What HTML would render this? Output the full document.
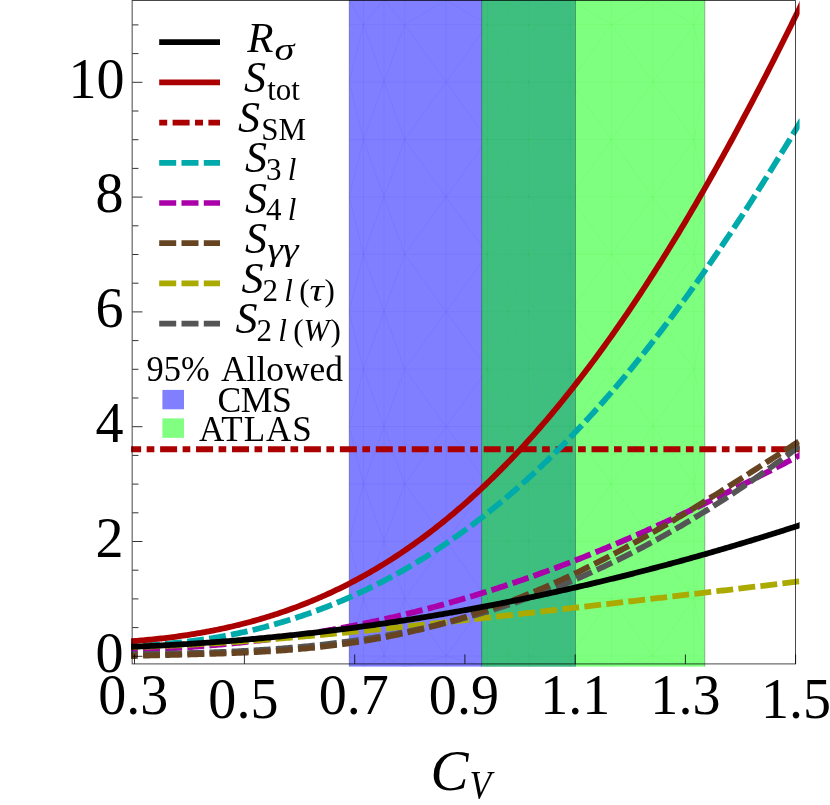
<!DOCTYPE html>
<html><head><meta charset="utf-8"><title>Chart</title>
<style>
html,body{margin:0;padding:0;background:#fff;}
body{width:830px;height:805px;overflow:hidden;font-family:"Liberation Serif",serif;}
svg{display:block;will-change:transform;transform:translateZ(0);}
</style></head><body>
<svg width="830" height="805" viewBox="0 0 830 805">
<defs>
<clipPath id="cc"><rect x="131.1" y="0" width="668.5" height="666.9"/></clipPath>
</defs>
<rect width="830" height="805" fill="#fff"/>
<rect x="349.2" y="0" width="226.3" height="666.6" fill="#0000ff" fill-opacity="0.5"/>
<g stroke="#0000ff" stroke-opacity="0.075" stroke-width="0.7" fill="none">
<line x1="349.2" y1="24.7" x2="575.5" y2="24.7"/>
<line x1="349.2" y1="82.1" x2="575.5" y2="82.1"/>
<line x1="349.2" y1="139.5" x2="575.5" y2="139.5"/>
<line x1="349.2" y1="196.9" x2="575.5" y2="196.9"/>
<line x1="349.2" y1="254.3" x2="575.5" y2="254.3"/>
<line x1="349.2" y1="311.7" x2="575.5" y2="311.7"/>
<line x1="349.2" y1="369.1" x2="575.5" y2="369.1"/>
<line x1="349.2" y1="426.5" x2="575.5" y2="426.5"/>
<line x1="349.2" y1="483.9" x2="575.5" y2="483.9"/>
<line x1="349.2" y1="541.3" x2="575.5" y2="541.3"/>
<line x1="349.2" y1="598.7" x2="575.5" y2="598.7"/>
<line x1="349.2" y1="656.1" x2="575.5" y2="656.1"/>
<line x1="363.4" y1="0" x2="363.4" y2="666.6"/>
<line x1="384.0" y1="0" x2="384.0" y2="666.6"/>
<line x1="404.7" y1="0" x2="404.7" y2="666.6"/>
<line x1="446.1" y1="0" x2="446.1" y2="666.6"/>
<line x1="487.4" y1="0" x2="487.4" y2="666.6"/>
<line x1="528.7" y1="0" x2="528.7" y2="666.6"/>
<line x1="570.1" y1="0" x2="570.1" y2="666.6"/>
<line x1="349.2" y1="0.0" x2="363.4" y2="24.7"/>
<line x1="384.0" y1="0.0" x2="363.4" y2="24.7"/>
<line x1="384.0" y1="0.0" x2="404.7" y2="24.7"/>
<line x1="446.1" y1="0.0" x2="404.7" y2="24.7"/>
<line x1="446.1" y1="0.0" x2="487.4" y2="24.7"/>
<line x1="528.7" y1="0.0" x2="487.4" y2="24.7"/>
<line x1="528.7" y1="0.0" x2="570.1" y2="24.7"/>
<line x1="575.5" y1="0.0" x2="570.1" y2="24.7"/>
<line x1="363.4" y1="24.7" x2="349.2" y2="82.1"/>
<line x1="363.4" y1="24.7" x2="384.0" y2="82.1"/>
<line x1="404.7" y1="24.7" x2="384.0" y2="82.1"/>
<line x1="404.7" y1="24.7" x2="446.1" y2="82.1"/>
<line x1="487.4" y1="24.7" x2="446.1" y2="82.1"/>
<line x1="487.4" y1="24.7" x2="528.7" y2="82.1"/>
<line x1="570.1" y1="24.7" x2="528.7" y2="82.1"/>
<line x1="570.1" y1="24.7" x2="575.5" y2="82.1"/>
<line x1="349.2" y1="82.1" x2="363.4" y2="139.5"/>
<line x1="384.0" y1="82.1" x2="363.4" y2="139.5"/>
<line x1="384.0" y1="82.1" x2="404.7" y2="139.5"/>
<line x1="446.1" y1="82.1" x2="404.7" y2="139.5"/>
<line x1="446.1" y1="82.1" x2="487.4" y2="139.5"/>
<line x1="528.7" y1="82.1" x2="487.4" y2="139.5"/>
<line x1="528.7" y1="82.1" x2="570.1" y2="139.5"/>
<line x1="575.5" y1="82.1" x2="570.1" y2="139.5"/>
<line x1="363.4" y1="139.5" x2="349.2" y2="196.9"/>
<line x1="363.4" y1="139.5" x2="384.0" y2="196.9"/>
<line x1="404.7" y1="139.5" x2="384.0" y2="196.9"/>
<line x1="404.7" y1="139.5" x2="446.1" y2="196.9"/>
<line x1="487.4" y1="139.5" x2="446.1" y2="196.9"/>
<line x1="487.4" y1="139.5" x2="528.7" y2="196.9"/>
<line x1="570.1" y1="139.5" x2="528.7" y2="196.9"/>
<line x1="570.1" y1="139.5" x2="575.5" y2="196.9"/>
<line x1="349.2" y1="196.9" x2="363.4" y2="254.3"/>
<line x1="384.0" y1="196.9" x2="363.4" y2="254.3"/>
<line x1="384.0" y1="196.9" x2="404.7" y2="254.3"/>
<line x1="446.1" y1="196.9" x2="404.7" y2="254.3"/>
<line x1="446.1" y1="196.9" x2="487.4" y2="254.3"/>
<line x1="528.7" y1="196.9" x2="487.4" y2="254.3"/>
<line x1="528.7" y1="196.9" x2="570.1" y2="254.3"/>
<line x1="575.5" y1="196.9" x2="570.1" y2="254.3"/>
<line x1="363.4" y1="254.3" x2="349.2" y2="311.7"/>
<line x1="363.4" y1="254.3" x2="384.0" y2="311.7"/>
<line x1="404.7" y1="254.3" x2="384.0" y2="311.7"/>
<line x1="404.7" y1="254.3" x2="446.1" y2="311.7"/>
<line x1="487.4" y1="254.3" x2="446.1" y2="311.7"/>
<line x1="487.4" y1="254.3" x2="528.7" y2="311.7"/>
<line x1="570.1" y1="254.3" x2="528.7" y2="311.7"/>
<line x1="570.1" y1="254.3" x2="575.5" y2="311.7"/>
<line x1="349.2" y1="311.7" x2="363.4" y2="369.1"/>
<line x1="384.0" y1="311.7" x2="363.4" y2="369.1"/>
<line x1="384.0" y1="311.7" x2="404.7" y2="369.1"/>
<line x1="446.1" y1="311.7" x2="404.7" y2="369.1"/>
<line x1="446.1" y1="311.7" x2="487.4" y2="369.1"/>
<line x1="528.7" y1="311.7" x2="487.4" y2="369.1"/>
<line x1="528.7" y1="311.7" x2="570.1" y2="369.1"/>
<line x1="575.5" y1="311.7" x2="570.1" y2="369.1"/>
<line x1="363.4" y1="369.1" x2="349.2" y2="426.5"/>
<line x1="363.4" y1="369.1" x2="384.0" y2="426.5"/>
<line x1="404.7" y1="369.1" x2="384.0" y2="426.5"/>
<line x1="404.7" y1="369.1" x2="446.1" y2="426.5"/>
<line x1="487.4" y1="369.1" x2="446.1" y2="426.5"/>
<line x1="487.4" y1="369.1" x2="528.7" y2="426.5"/>
<line x1="570.1" y1="369.1" x2="528.7" y2="426.5"/>
<line x1="570.1" y1="369.1" x2="575.5" y2="426.5"/>
<line x1="349.2" y1="426.5" x2="363.4" y2="483.9"/>
<line x1="384.0" y1="426.5" x2="363.4" y2="483.9"/>
<line x1="384.0" y1="426.5" x2="404.7" y2="483.9"/>
<line x1="446.1" y1="426.5" x2="404.7" y2="483.9"/>
<line x1="446.1" y1="426.5" x2="487.4" y2="483.9"/>
<line x1="528.7" y1="426.5" x2="487.4" y2="483.9"/>
<line x1="528.7" y1="426.5" x2="570.1" y2="483.9"/>
<line x1="575.5" y1="426.5" x2="570.1" y2="483.9"/>
<line x1="363.4" y1="483.9" x2="349.2" y2="541.3"/>
<line x1="363.4" y1="483.9" x2="384.0" y2="541.3"/>
<line x1="404.7" y1="483.9" x2="384.0" y2="541.3"/>
<line x1="404.7" y1="483.9" x2="446.1" y2="541.3"/>
<line x1="487.4" y1="483.9" x2="446.1" y2="541.3"/>
<line x1="487.4" y1="483.9" x2="528.7" y2="541.3"/>
<line x1="570.1" y1="483.9" x2="528.7" y2="541.3"/>
<line x1="570.1" y1="483.9" x2="575.5" y2="541.3"/>
<line x1="349.2" y1="541.3" x2="363.4" y2="598.7"/>
<line x1="384.0" y1="541.3" x2="363.4" y2="598.7"/>
<line x1="384.0" y1="541.3" x2="404.7" y2="598.7"/>
<line x1="446.1" y1="541.3" x2="404.7" y2="598.7"/>
<line x1="446.1" y1="541.3" x2="487.4" y2="598.7"/>
<line x1="528.7" y1="541.3" x2="487.4" y2="598.7"/>
<line x1="528.7" y1="541.3" x2="570.1" y2="598.7"/>
<line x1="575.5" y1="541.3" x2="570.1" y2="598.7"/>
<line x1="363.4" y1="598.7" x2="349.2" y2="656.1"/>
<line x1="363.4" y1="598.7" x2="384.0" y2="656.1"/>
<line x1="404.7" y1="598.7" x2="384.0" y2="656.1"/>
<line x1="404.7" y1="598.7" x2="446.1" y2="656.1"/>
<line x1="487.4" y1="598.7" x2="446.1" y2="656.1"/>
<line x1="487.4" y1="598.7" x2="528.7" y2="656.1"/>
<line x1="570.1" y1="598.7" x2="528.7" y2="656.1"/>
<line x1="570.1" y1="598.7" x2="575.5" y2="656.1"/>
<line x1="349.2" y1="656.1" x2="363.4" y2="666.6"/>
<line x1="384.0" y1="656.1" x2="363.4" y2="666.6"/>
<line x1="384.0" y1="656.1" x2="404.7" y2="666.6"/>
<line x1="446.1" y1="656.1" x2="404.7" y2="666.6"/>
<line x1="446.1" y1="656.1" x2="487.4" y2="666.6"/>
<line x1="528.7" y1="656.1" x2="487.4" y2="666.6"/>
<line x1="528.7" y1="656.1" x2="570.1" y2="666.6"/>
<line x1="575.5" y1="656.1" x2="570.1" y2="666.6"/>
</g>
<rect x="481.7" y="0" width="223.1" height="666.6" fill="#00ff00" fill-opacity="0.5"/>
<g stroke="#00d800" stroke-opacity="0.085" stroke-width="0.7" fill="none">
<line x1="481.7" y1="24.7" x2="704.8" y2="24.7"/>
<line x1="481.7" y1="82.1" x2="704.8" y2="82.1"/>
<line x1="481.7" y1="139.5" x2="704.8" y2="139.5"/>
<line x1="481.7" y1="196.9" x2="704.8" y2="196.9"/>
<line x1="481.7" y1="254.3" x2="704.8" y2="254.3"/>
<line x1="481.7" y1="311.7" x2="704.8" y2="311.7"/>
<line x1="481.7" y1="369.1" x2="704.8" y2="369.1"/>
<line x1="481.7" y1="426.5" x2="704.8" y2="426.5"/>
<line x1="481.7" y1="483.9" x2="704.8" y2="483.9"/>
<line x1="481.7" y1="541.3" x2="704.8" y2="541.3"/>
<line x1="481.7" y1="598.7" x2="704.8" y2="598.7"/>
<line x1="481.7" y1="656.1" x2="704.8" y2="656.1"/>
<line x1="487.4" y1="0" x2="487.4" y2="666.6"/>
<line x1="508.1" y1="0" x2="508.1" y2="666.6"/>
<line x1="528.7" y1="0" x2="528.7" y2="666.6"/>
<line x1="570.1" y1="0" x2="570.1" y2="666.6"/>
<line x1="611.4" y1="0" x2="611.4" y2="666.6"/>
<line x1="652.8" y1="0" x2="652.8" y2="666.6"/>
<line x1="694.1" y1="0" x2="694.1" y2="666.6"/>
<line x1="481.7" y1="0.0" x2="487.4" y2="24.7"/>
<line x1="508.1" y1="0.0" x2="487.4" y2="24.7"/>
<line x1="508.1" y1="0.0" x2="528.7" y2="24.7"/>
<line x1="570.1" y1="0.0" x2="528.7" y2="24.7"/>
<line x1="570.1" y1="0.0" x2="611.4" y2="24.7"/>
<line x1="652.8" y1="0.0" x2="611.4" y2="24.7"/>
<line x1="652.8" y1="0.0" x2="694.1" y2="24.7"/>
<line x1="704.8" y1="0.0" x2="694.1" y2="24.7"/>
<line x1="487.4" y1="24.7" x2="481.7" y2="82.1"/>
<line x1="487.4" y1="24.7" x2="508.1" y2="82.1"/>
<line x1="528.7" y1="24.7" x2="508.1" y2="82.1"/>
<line x1="528.7" y1="24.7" x2="570.1" y2="82.1"/>
<line x1="611.4" y1="24.7" x2="570.1" y2="82.1"/>
<line x1="611.4" y1="24.7" x2="652.8" y2="82.1"/>
<line x1="694.1" y1="24.7" x2="652.8" y2="82.1"/>
<line x1="694.1" y1="24.7" x2="704.8" y2="82.1"/>
<line x1="481.7" y1="82.1" x2="487.4" y2="139.5"/>
<line x1="508.1" y1="82.1" x2="487.4" y2="139.5"/>
<line x1="508.1" y1="82.1" x2="528.7" y2="139.5"/>
<line x1="570.1" y1="82.1" x2="528.7" y2="139.5"/>
<line x1="570.1" y1="82.1" x2="611.4" y2="139.5"/>
<line x1="652.8" y1="82.1" x2="611.4" y2="139.5"/>
<line x1="652.8" y1="82.1" x2="694.1" y2="139.5"/>
<line x1="704.8" y1="82.1" x2="694.1" y2="139.5"/>
<line x1="487.4" y1="139.5" x2="481.7" y2="196.9"/>
<line x1="487.4" y1="139.5" x2="508.1" y2="196.9"/>
<line x1="528.7" y1="139.5" x2="508.1" y2="196.9"/>
<line x1="528.7" y1="139.5" x2="570.1" y2="196.9"/>
<line x1="611.4" y1="139.5" x2="570.1" y2="196.9"/>
<line x1="611.4" y1="139.5" x2="652.8" y2="196.9"/>
<line x1="694.1" y1="139.5" x2="652.8" y2="196.9"/>
<line x1="694.1" y1="139.5" x2="704.8" y2="196.9"/>
<line x1="481.7" y1="196.9" x2="487.4" y2="254.3"/>
<line x1="508.1" y1="196.9" x2="487.4" y2="254.3"/>
<line x1="508.1" y1="196.9" x2="528.7" y2="254.3"/>
<line x1="570.1" y1="196.9" x2="528.7" y2="254.3"/>
<line x1="570.1" y1="196.9" x2="611.4" y2="254.3"/>
<line x1="652.8" y1="196.9" x2="611.4" y2="254.3"/>
<line x1="652.8" y1="196.9" x2="694.1" y2="254.3"/>
<line x1="704.8" y1="196.9" x2="694.1" y2="254.3"/>
<line x1="487.4" y1="254.3" x2="481.7" y2="311.7"/>
<line x1="487.4" y1="254.3" x2="508.1" y2="311.7"/>
<line x1="528.7" y1="254.3" x2="508.1" y2="311.7"/>
<line x1="528.7" y1="254.3" x2="570.1" y2="311.7"/>
<line x1="611.4" y1="254.3" x2="570.1" y2="311.7"/>
<line x1="611.4" y1="254.3" x2="652.8" y2="311.7"/>
<line x1="694.1" y1="254.3" x2="652.8" y2="311.7"/>
<line x1="694.1" y1="254.3" x2="704.8" y2="311.7"/>
<line x1="481.7" y1="311.7" x2="487.4" y2="369.1"/>
<line x1="508.1" y1="311.7" x2="487.4" y2="369.1"/>
<line x1="508.1" y1="311.7" x2="528.7" y2="369.1"/>
<line x1="570.1" y1="311.7" x2="528.7" y2="369.1"/>
<line x1="570.1" y1="311.7" x2="611.4" y2="369.1"/>
<line x1="652.8" y1="311.7" x2="611.4" y2="369.1"/>
<line x1="652.8" y1="311.7" x2="694.1" y2="369.1"/>
<line x1="704.8" y1="311.7" x2="694.1" y2="369.1"/>
<line x1="487.4" y1="369.1" x2="481.7" y2="426.5"/>
<line x1="487.4" y1="369.1" x2="508.1" y2="426.5"/>
<line x1="528.7" y1="369.1" x2="508.1" y2="426.5"/>
<line x1="528.7" y1="369.1" x2="570.1" y2="426.5"/>
<line x1="611.4" y1="369.1" x2="570.1" y2="426.5"/>
<line x1="611.4" y1="369.1" x2="652.8" y2="426.5"/>
<line x1="694.1" y1="369.1" x2="652.8" y2="426.5"/>
<line x1="694.1" y1="369.1" x2="704.8" y2="426.5"/>
<line x1="481.7" y1="426.5" x2="487.4" y2="483.9"/>
<line x1="508.1" y1="426.5" x2="487.4" y2="483.9"/>
<line x1="508.1" y1="426.5" x2="528.7" y2="483.9"/>
<line x1="570.1" y1="426.5" x2="528.7" y2="483.9"/>
<line x1="570.1" y1="426.5" x2="611.4" y2="483.9"/>
<line x1="652.8" y1="426.5" x2="611.4" y2="483.9"/>
<line x1="652.8" y1="426.5" x2="694.1" y2="483.9"/>
<line x1="704.8" y1="426.5" x2="694.1" y2="483.9"/>
<line x1="487.4" y1="483.9" x2="481.7" y2="541.3"/>
<line x1="487.4" y1="483.9" x2="508.1" y2="541.3"/>
<line x1="528.7" y1="483.9" x2="508.1" y2="541.3"/>
<line x1="528.7" y1="483.9" x2="570.1" y2="541.3"/>
<line x1="611.4" y1="483.9" x2="570.1" y2="541.3"/>
<line x1="611.4" y1="483.9" x2="652.8" y2="541.3"/>
<line x1="694.1" y1="483.9" x2="652.8" y2="541.3"/>
<line x1="694.1" y1="483.9" x2="704.8" y2="541.3"/>
<line x1="481.7" y1="541.3" x2="487.4" y2="598.7"/>
<line x1="508.1" y1="541.3" x2="487.4" y2="598.7"/>
<line x1="508.1" y1="541.3" x2="528.7" y2="598.7"/>
<line x1="570.1" y1="541.3" x2="528.7" y2="598.7"/>
<line x1="570.1" y1="541.3" x2="611.4" y2="598.7"/>
<line x1="652.8" y1="541.3" x2="611.4" y2="598.7"/>
<line x1="652.8" y1="541.3" x2="694.1" y2="598.7"/>
<line x1="704.8" y1="541.3" x2="694.1" y2="598.7"/>
<line x1="487.4" y1="598.7" x2="481.7" y2="656.1"/>
<line x1="487.4" y1="598.7" x2="508.1" y2="656.1"/>
<line x1="528.7" y1="598.7" x2="508.1" y2="656.1"/>
<line x1="528.7" y1="598.7" x2="570.1" y2="656.1"/>
<line x1="611.4" y1="598.7" x2="570.1" y2="656.1"/>
<line x1="611.4" y1="598.7" x2="652.8" y2="656.1"/>
<line x1="694.1" y1="598.7" x2="652.8" y2="656.1"/>
<line x1="694.1" y1="598.7" x2="704.8" y2="656.1"/>
<line x1="481.7" y1="656.1" x2="487.4" y2="666.6"/>
<line x1="508.1" y1="656.1" x2="487.4" y2="666.6"/>
<line x1="508.1" y1="656.1" x2="528.7" y2="666.6"/>
<line x1="570.1" y1="656.1" x2="528.7" y2="666.6"/>
<line x1="570.1" y1="656.1" x2="611.4" y2="666.6"/>
<line x1="652.8" y1="656.1" x2="611.4" y2="666.6"/>
<line x1="652.8" y1="656.1" x2="694.1" y2="666.6"/>
<line x1="704.8" y1="656.1" x2="694.1" y2="666.6"/>
</g>
<g stroke="#000" stroke-opacity="0.35" stroke-width="0.8">
<line x1="349.2" y1="0" x2="349.2" y2="666.6"/>
<line x1="575.5" y1="0" x2="575.5" y2="666.6"/>
<line x1="481.7" y1="0" x2="481.7" y2="666.6"/>
<line x1="704.8" y1="0" x2="704.8" y2="666.6"/>
</g>
<g clip-path="url(#cc)" fill="none" stroke-linecap="butt" stroke-linejoin="round">
<path d="M124.15,449.2 L803,449.2" stroke="#aa0000" stroke-width="6" stroke-dasharray="17 5.5 7.7 5.75"/>
<path d="M120.9,645.67 L122.9,645.66 L124.9,645.65 L126.9,645.63 L128.9,645.60 L130.9,645.57 L132.9,645.52 L134.9,645.47 L136.9,645.42 L138.9,645.36 L140.9,645.28 L142.9,645.21 L144.9,645.12 L146.9,645.03 L148.9,644.93 L150.9,644.83 L152.9,644.71 L154.9,644.59 L156.9,644.47 L158.9,644.33 L160.9,644.19 L162.9,644.04 L164.9,643.89 L166.9,643.73 L168.9,643.56 L170.9,643.38 L172.9,643.20 L174.9,643.01 L176.9,642.81 L178.9,642.60 L180.9,642.39 L182.9,642.17 L184.9,641.95 L186.9,641.72 L188.9,641.48 L190.9,641.23 L192.9,640.97 L194.9,640.71 L196.9,640.44 L198.9,640.17 L200.9,639.88 L202.9,639.59 L204.9,639.30 L206.9,638.99 L208.9,638.68 L210.9,638.36 L212.9,638.03 L214.9,637.70 L216.9,637.36 L218.9,637.01 L220.9,636.65 L222.9,636.29 L224.9,635.92 L226.9,635.54 L228.9,635.16 L230.9,634.77 L232.9,634.37 L234.9,633.96 L236.9,633.54 L238.9,633.12 L240.9,632.69 L242.9,632.25 L244.9,631.81 L246.9,631.36 L248.9,630.89 L250.9,630.43 L252.9,629.95 L254.9,629.47 L256.9,628.98 L258.9,628.48 L260.9,627.97 L262.9,627.46 L264.9,626.94 L266.9,626.41 L268.9,625.87 L270.9,625.32 L272.9,624.77 L274.9,624.21 L276.9,623.64 L278.9,623.06 L280.9,622.48 L282.9,621.89 L284.9,621.28 L286.9,620.68 L288.9,620.06 L290.9,619.43 L292.9,618.80 L294.9,618.16 L296.9,617.51 L298.9,616.85 L300.9,616.18 L302.9,615.51 L304.9,614.82 L306.9,614.13 L308.9,613.43 L310.9,612.72 L312.9,612.01 L314.9,611.28 L316.9,610.55 L318.9,609.81 L320.9,609.05 L322.9,608.30 L324.9,607.53 L326.9,606.75 L328.9,605.96 L330.9,605.17 L332.9,604.37 L334.9,603.55 L336.9,602.73 L338.9,601.90 L340.9,601.07 L342.9,600.22 L344.9,599.36 L346.9,598.50 L348.9,597.62 L350.9,596.74 L352.9,595.85 L354.9,594.94 L356.9,594.03 L358.9,593.11 L360.9,592.18 L362.9,591.24 L364.9,590.30 L366.9,589.34 L368.9,588.37 L370.9,587.39 L372.9,586.41 L374.9,585.41 L376.9,584.41 L378.9,583.39 L380.9,582.37 L382.9,581.34 L384.9,580.29 L386.9,579.24 L388.9,578.18 L390.9,577.11 L392.9,576.02 L394.9,574.93 L396.9,573.83 L398.9,572.72 L400.9,571.60 L402.9,570.47 L404.9,569.33 L406.9,568.17 L408.9,567.01 L410.9,565.84 L412.9,564.66 L414.9,563.47 L416.9,562.26 L418.9,561.05 L420.9,559.83 L422.9,558.60 L424.9,557.35 L426.9,556.10 L428.9,554.84 L430.9,553.56 L432.9,552.28 L434.9,550.98 L436.9,549.68 L438.9,548.36 L440.9,547.03 L442.9,545.69 L444.9,544.35 L446.9,542.99 L448.9,541.62 L450.9,540.24 L452.9,538.85 L454.9,537.44 L456.9,536.03 L458.9,534.61 L460.9,533.17 L462.9,531.73 L464.9,530.27 L466.9,528.81 L468.9,527.33 L470.9,525.84 L472.9,524.34 L474.9,522.83 L476.9,521.30 L478.9,519.77 L480.9,518.22 L482.9,516.67 L484.9,515.10 L486.9,513.52 L488.9,511.93 L490.9,510.33 L492.9,508.72 L494.9,507.10 L496.9,505.46 L498.9,503.81 L500.9,502.16 L502.9,500.49 L504.9,498.81 L506.9,497.11 L508.9,495.41 L510.9,493.69 L512.9,491.97 L514.9,490.23 L516.9,488.48 L518.9,486.72 L520.9,484.94 L522.9,483.16 L524.9,481.36 L526.9,479.55 L528.9,477.73 L530.9,475.90 L532.9,474.06 L534.9,472.20 L536.9,470.33 L538.9,468.45 L540.9,466.56 L542.9,464.66 L544.9,462.74 L546.9,460.82 L548.9,458.88 L550.9,456.93 L552.9,454.97 L554.9,452.99 L556.9,451.01 L558.9,449.01 L560.9,447.00 L562.9,444.97 L564.9,442.94 L566.9,440.89 L568.9,438.84 L570.9,436.77 L572.9,434.68 L574.9,432.59 L576.9,430.48 L578.9,428.36 L580.9,426.23 L582.9,424.09 L584.9,421.94 L586.9,419.77 L588.9,417.59 L590.9,415.40 L592.9,413.20 L594.9,410.98 L596.9,408.76 L598.9,406.52 L600.9,404.26 L602.9,402.00 L604.9,399.73 L606.9,397.44 L608.9,395.14 L610.9,392.83 L612.9,390.50 L614.9,388.17 L616.9,385.82 L618.9,383.46 L620.9,381.09 L622.9,378.70 L624.9,376.31 L626.9,373.90 L628.9,371.48 L630.9,369.04 L632.9,366.60 L634.9,364.14 L636.9,361.67 L638.9,359.19 L640.9,356.70 L642.9,354.20 L644.9,351.68 L646.9,349.15 L648.9,346.61 L650.9,344.06 L652.9,341.50 L654.9,338.92 L656.9,336.33 L658.9,333.73 L660.9,331.12 L662.9,328.50 L664.9,325.86 L666.9,323.22 L668.9,320.56 L670.9,317.89 L672.9,315.20 L674.9,312.51 L676.9,309.81 L678.9,307.09 L680.9,304.36 L682.9,301.62 L684.9,298.87 L686.9,296.11 L688.9,293.33 L690.9,290.55 L692.9,287.75 L694.9,284.94 L696.9,282.12 L698.9,279.29 L700.9,276.45 L702.9,273.59 L704.9,270.73 L706.9,267.85 L708.9,264.96 L710.9,262.07 L712.9,259.16 L714.9,256.24 L716.9,253.31 L718.9,250.36 L720.9,247.41 L722.9,244.45 L724.9,241.47 L726.9,238.49 L728.9,235.49 L730.9,232.49 L732.9,229.47 L734.9,226.44 L736.9,223.41 L738.9,220.36 L740.9,217.30 L742.9,214.23 L744.9,211.15 L746.9,208.06 L748.9,204.96 L750.9,201.85 L752.9,198.73 L754.9,195.61 L756.9,192.47 L758.9,189.32 L760.9,186.16 L762.9,182.99 L764.9,179.81 L766.9,176.63 L768.9,173.43 L770.9,170.22 L772.9,167.01 L774.9,163.78 L776.9,160.55 L778.9,157.31 L780.9,154.05 L782.9,150.79 L784.9,147.52 L786.9,144.25 L788.9,140.96 L790.9,137.66 L792.9,134.36 L794.9,131.05 L796.9,127.72 L798.9,124.39 L800.9,121.06 L802.9,117.71" stroke="#00aaaa" stroke-width="5.8" stroke-dasharray="16.9 5.26"/>
<path d="M120.9,650.68 L122.9,650.61 L124.9,650.54 L126.9,650.46 L128.9,650.39 L130.9,650.31 L132.9,650.23 L134.9,650.15 L136.9,650.06 L138.9,649.98 L140.9,649.89 L142.9,649.80 L144.9,649.71 L146.9,649.61 L148.9,649.52 L150.9,649.42 L152.9,649.32 L154.9,649.22 L156.9,649.11 L158.9,649.00 L160.9,648.90 L162.9,648.78 L164.9,648.67 L166.9,648.56 L168.9,648.44 L170.9,648.32 L172.9,648.19 L174.9,648.07 L176.9,647.94 L178.9,647.81 L180.9,647.68 L182.9,647.55 L184.9,647.41 L186.9,647.27 L188.9,647.13 L190.9,646.99 L192.9,646.84 L194.9,646.69 L196.9,646.54 L198.9,646.39 L200.9,646.23 L202.9,646.07 L204.9,645.91 L206.9,645.74 L208.9,645.58 L210.9,645.41 L212.9,645.23 L214.9,645.06 L216.9,644.88 L218.9,644.70 L220.9,644.52 L222.9,644.33 L224.9,644.14 L226.9,643.95 L228.9,643.76 L230.9,643.56 L232.9,643.36 L234.9,643.16 L236.9,642.95 L238.9,642.75 L240.9,642.53 L242.9,642.32 L244.9,642.10 L246.9,641.88 L248.9,641.66 L250.9,641.44 L252.9,641.21 L254.9,640.98 L256.9,640.74 L258.9,640.50 L260.9,640.26 L262.9,640.02 L264.9,639.77 L266.9,639.52 L268.9,639.27 L270.9,639.01 L272.9,638.76 L274.9,638.49 L276.9,638.23 L278.9,637.96 L280.9,637.69 L282.9,637.42 L284.9,637.14 L286.9,636.86 L288.9,636.57 L290.9,636.29 L292.9,636.00 L294.9,635.70 L296.9,635.41 L298.9,635.11 L300.9,634.80 L302.9,634.50 L304.9,634.19 L306.9,633.87 L308.9,633.56 L310.9,633.24 L312.9,632.92 L314.9,632.59 L316.9,632.26 L318.9,631.93 L320.9,631.59 L322.9,631.25 L324.9,630.91 L326.9,630.57 L328.9,630.22 L330.9,629.86 L332.9,629.51 L334.9,629.15 L336.9,628.79 L338.9,628.42 L340.9,628.05 L342.9,627.68 L344.9,627.30 L346.9,626.92 L348.9,626.54 L350.9,626.15 L352.9,625.76 L354.9,625.37 L356.9,624.97 L358.9,624.57 L360.9,624.17 L362.9,623.76 L364.9,623.35 L366.9,622.94 L368.9,622.52 L370.9,622.10 L372.9,621.67 L374.9,621.24 L376.9,620.81 L378.9,620.38 L380.9,619.94 L382.9,619.50 L384.9,619.05 L386.9,618.60 L388.9,618.15 L390.9,617.69 L392.9,617.23 L394.9,616.77 L396.9,616.30 L398.9,615.83 L400.9,615.36 L402.9,614.88 L404.9,614.40 L406.9,613.91 L408.9,613.42 L410.9,612.93 L412.9,612.44 L414.9,611.94 L416.9,611.43 L418.9,610.93 L420.9,610.42 L422.9,609.91 L424.9,609.39 L426.9,608.87 L428.9,608.34 L430.9,607.82 L432.9,607.29 L434.9,606.75 L436.9,606.21 L438.9,605.67 L440.9,605.12 L442.9,604.58 L444.9,604.02 L446.9,603.47 L448.9,602.91 L450.9,602.34 L452.9,601.78 L454.9,601.21 L456.9,600.63 L458.9,600.05 L460.9,599.47 L462.9,598.89 L464.9,598.30 L466.9,597.71 L468.9,597.11 L470.9,596.51 L472.9,595.91 L474.9,595.30 L476.9,594.69 L478.9,594.08 L480.9,593.46 L482.9,592.84 L484.9,592.22 L486.9,591.59 L488.9,590.96 L490.9,590.32 L492.9,589.69 L494.9,589.04 L496.9,588.40 L498.9,587.75 L500.9,587.10 L502.9,586.44 L504.9,585.78 L506.9,585.12 L508.9,584.45 L510.9,583.78 L512.9,583.11 L514.9,582.43 L516.9,581.75 L518.9,581.07 L520.9,580.38 L522.9,579.69 L524.9,579.00 L526.9,578.30 L528.9,577.60 L530.9,576.89 L532.9,576.18 L534.9,575.47 L536.9,574.76 L538.9,574.04 L540.9,573.32 L542.9,572.59 L544.9,571.86 L546.9,571.13 L548.9,570.40 L550.9,569.66 L552.9,568.92 L554.9,568.17 L556.9,567.42 L558.9,566.67 L560.9,565.91 L562.9,565.15 L564.9,564.39 L566.9,563.63 L568.9,562.86 L570.9,562.09 L572.9,561.31 L574.9,560.53 L576.9,559.75 L578.9,558.96 L580.9,558.18 L582.9,557.38 L584.9,556.59 L586.9,555.79 L588.9,554.99 L590.9,554.18 L592.9,553.38 L594.9,552.57 L596.9,551.75 L598.9,550.93 L600.9,550.11 L602.9,549.29 L604.9,548.46 L606.9,547.63 L608.9,546.80 L610.9,545.97 L612.9,545.13 L614.9,544.28 L616.9,543.44 L618.9,542.59 L620.9,541.74 L622.9,540.88 L624.9,540.03 L626.9,539.17 L628.9,538.30 L630.9,537.44 L632.9,536.57 L634.9,535.70 L636.9,534.82 L638.9,533.94 L640.9,533.06 L642.9,532.18 L644.9,531.29 L646.9,530.40 L648.9,529.51 L650.9,528.62 L652.9,527.72 L654.9,526.82 L656.9,525.91 L658.9,525.01 L660.9,524.10 L662.9,523.19 L664.9,522.27 L666.9,521.35 L668.9,520.43 L670.9,519.51 L672.9,518.59 L674.9,517.66 L676.9,516.73 L678.9,515.79 L680.9,514.86 L682.9,513.92 L684.9,512.98 L686.9,512.04 L688.9,511.09 L690.9,510.14 L692.9,509.19 L694.9,508.24 L696.9,507.28 L698.9,506.32 L700.9,505.36 L702.9,504.40 L704.9,503.43 L706.9,502.47 L708.9,501.50 L710.9,500.52 L712.9,499.55 L714.9,498.57 L716.9,497.59 L718.9,496.61 L720.9,495.63 L722.9,494.64 L724.9,493.65 L726.9,492.66 L728.9,491.67 L730.9,490.67 L732.9,489.68 L734.9,488.68 L736.9,487.68 L738.9,486.67 L740.9,485.67 L742.9,484.66 L744.9,483.65 L746.9,482.64 L748.9,481.63 L750.9,480.61 L752.9,479.59 L754.9,478.58 L756.9,477.55 L758.9,476.53 L760.9,475.51 L762.9,474.48 L764.9,473.45 L766.9,472.42 L768.9,471.39 L770.9,470.36 L772.9,469.32 L774.9,468.29 L776.9,467.25 L778.9,466.21 L780.9,465.17 L782.9,464.13 L784.9,463.08 L786.9,462.04 L788.9,460.99 L790.9,459.94 L792.9,458.89 L794.9,457.84 L796.9,456.78 L798.9,455.73 L800.9,454.67 L802.9,453.62" stroke="#aa00aa" stroke-width="5.8" stroke-dasharray="16.9 5.26"/>
<path d="M120.9,647.34 L122.9,647.29 L124.9,647.24 L126.9,647.19 L128.9,647.14 L130.9,647.09 L132.9,647.03 L134.9,646.98 L136.9,646.92 L138.9,646.86 L140.9,646.79 L142.9,646.73 L144.9,646.66 L146.9,646.59 L148.9,646.52 L150.9,646.45 L152.9,646.37 L154.9,646.30 L156.9,646.22 L158.9,646.14 L160.9,646.06 L162.9,645.97 L164.9,645.89 L166.9,645.80 L168.9,645.71 L170.9,645.62 L172.9,645.53 L174.9,645.44 L176.9,645.34 L178.9,645.25 L180.9,645.15 L182.9,645.05 L184.9,644.95 L186.9,644.84 L188.9,644.74 L190.9,644.63 L192.9,644.52 L194.9,644.41 L196.9,644.30 L198.9,644.19 L200.9,644.08 L202.9,643.96 L204.9,643.84 L206.9,643.73 L208.9,643.61 L210.9,643.48 L212.9,643.36 L214.9,643.24 L216.9,643.11 L218.9,642.99 L220.9,642.86 L222.9,642.73 L224.9,642.60 L226.9,642.46 L228.9,642.33 L230.9,642.20 L232.9,642.06 L234.9,641.92 L236.9,641.78 L238.9,641.64 L240.9,641.50 L242.9,641.36 L244.9,641.21 L246.9,641.07 L248.9,640.92 L250.9,640.78 L252.9,640.63 L254.9,640.48 L256.9,640.33 L258.9,640.17 L260.9,640.02 L262.9,639.87 L264.9,639.71 L266.9,639.55 L268.9,639.40 L270.9,639.24 L272.9,639.08 L274.9,638.92 L276.9,638.76 L278.9,638.59 L280.9,638.43 L282.9,638.26 L284.9,638.10 L286.9,637.93 L288.9,637.76 L290.9,637.59 L292.9,637.42 L294.9,637.25 L296.9,637.08 L298.9,636.91 L300.9,636.73 L302.9,636.56 L304.9,636.38 L306.9,636.21 L308.9,636.03 L310.9,635.85 L312.9,635.67 L314.9,635.49 L316.9,635.31 L318.9,635.13 L320.9,634.95 L322.9,634.77 L324.9,634.58 L326.9,634.40 L328.9,634.21 L330.9,634.02 L332.9,633.84 L334.9,633.65 L336.9,633.46 L338.9,633.27 L340.9,633.08 L342.9,632.89 L344.9,632.70 L346.9,632.51 L348.9,632.31 L350.9,632.12 L352.9,631.93 L354.9,631.73 L356.9,631.53 L358.9,631.34 L360.9,631.14 L362.9,630.94 L364.9,630.75 L366.9,630.55 L368.9,630.35 L370.9,630.15 L372.9,629.95 L374.9,629.74 L376.9,629.54 L378.9,629.34 L380.9,629.14 L382.9,628.93 L384.9,628.73 L386.9,628.52 L388.9,628.32 L390.9,628.11 L392.9,627.91 L394.9,627.70 L396.9,627.49 L398.9,627.28 L400.9,627.08 L402.9,626.87 L404.9,626.66 L406.9,626.45 L408.9,626.24 L410.9,626.03 L412.9,625.82 L414.9,625.60 L416.9,625.39 L418.9,625.18 L420.9,624.97 L422.9,624.75 L424.9,624.54 L426.9,624.33 L428.9,624.11 L430.9,623.90 L432.9,623.68 L434.9,623.47 L436.9,623.25 L438.9,623.03 L440.9,622.82 L442.9,622.60 L444.9,622.38 L446.9,622.16 L448.9,621.94 L450.9,621.73 L452.9,621.51 L454.9,621.29 L456.9,621.07 L458.9,620.85 L460.9,620.63 L462.9,620.41 L464.9,620.19 L466.9,619.97 L468.9,619.75 L470.9,619.52 L472.9,619.30 L474.9,619.08 L476.9,618.86 L478.9,618.63 L480.9,618.41 L482.9,618.19 L484.9,617.97 L486.9,617.74 L488.9,617.52 L490.9,617.29 L492.9,617.07 L494.9,616.84 L496.9,616.62 L498.9,616.40 L500.9,616.17 L502.9,615.94 L504.9,615.72 L506.9,615.49 L508.9,615.27 L510.9,615.04 L512.9,614.81 L514.9,614.59 L516.9,614.36 L518.9,614.13 L520.9,613.91 L522.9,613.68 L524.9,613.45 L526.9,613.23 L528.9,613.00 L530.9,612.77 L532.9,612.54 L534.9,612.31 L536.9,612.09 L538.9,611.86 L540.9,611.63 L542.9,611.40 L544.9,611.17 L546.9,610.94 L548.9,610.71 L550.9,610.48 L552.9,610.25 L554.9,610.03 L556.9,609.80 L558.9,609.57 L560.9,609.34 L562.9,609.11 L564.9,608.88 L566.9,608.65 L568.9,608.42 L570.9,608.19 L572.9,607.96 L574.9,607.73 L576.9,607.50 L578.9,607.26 L580.9,607.03 L582.9,606.80 L584.9,606.57 L586.9,606.34 L588.9,606.11 L590.9,605.88 L592.9,605.65 L594.9,605.42 L596.9,605.19 L598.9,604.95 L600.9,604.72 L602.9,604.49 L604.9,604.26 L606.9,604.03 L608.9,603.80 L610.9,603.57 L612.9,603.33 L614.9,603.10 L616.9,602.87 L618.9,602.64 L620.9,602.41 L622.9,602.17 L624.9,601.94 L626.9,601.71 L628.9,601.48 L630.9,601.25 L632.9,601.01 L634.9,600.78 L636.9,600.55 L638.9,600.32 L640.9,600.08 L642.9,599.85 L644.9,599.62 L646.9,599.39 L648.9,599.15 L650.9,598.92 L652.9,598.69 L654.9,598.45 L656.9,598.22 L658.9,597.99 L660.9,597.76 L662.9,597.52 L664.9,597.29 L666.9,597.06 L668.9,596.82 L670.9,596.59 L672.9,596.36 L674.9,596.12 L676.9,595.89 L678.9,595.66 L680.9,595.42 L682.9,595.19 L684.9,594.95 L686.9,594.72 L688.9,594.49 L690.9,594.25 L692.9,594.02 L694.9,593.79 L696.9,593.55 L698.9,593.32 L700.9,593.08 L702.9,592.85 L704.9,592.61 L706.9,592.38 L708.9,592.15 L710.9,591.91 L712.9,591.68 L714.9,591.44 L716.9,591.21 L718.9,590.97 L720.9,590.74 L722.9,590.50 L724.9,590.27 L726.9,590.03 L728.9,589.80 L730.9,589.56 L732.9,589.33 L734.9,589.09 L736.9,588.85 L738.9,588.62 L740.9,588.38 L742.9,588.15 L744.9,587.91 L746.9,587.67 L748.9,587.44 L750.9,587.20 L752.9,586.96 L754.9,586.73 L756.9,586.49 L758.9,586.25 L760.9,586.02 L762.9,585.78 L764.9,585.54 L766.9,585.30 L768.9,585.07 L770.9,584.83 L772.9,584.59 L774.9,584.35 L776.9,584.11 L778.9,583.87 L780.9,583.63 L782.9,583.40 L784.9,583.16 L786.9,582.92 L788.9,582.68 L790.9,582.44 L792.9,582.20 L794.9,581.96 L796.9,581.72 L798.9,581.48 L800.9,581.24 L802.9,581.00" stroke="#aaaa00" stroke-width="5.8" stroke-dasharray="16.9 5.26"/>
<path d="M120.9,654.47 L122.9,654.44 L124.9,654.40 L126.9,654.36 L128.9,654.33 L130.9,654.29 L132.9,654.26 L134.9,654.22 L136.9,654.18 L138.9,654.15 L140.9,654.11 L142.9,654.07 L144.9,654.04 L146.9,654.00 L148.9,653.96 L150.9,653.92 L152.9,653.89 L154.9,653.85 L156.9,653.81 L158.9,653.77 L160.9,653.73 L162.9,653.69 L164.9,653.64 L166.9,653.60 L168.9,653.56 L170.9,653.51 L172.9,653.47 L174.9,653.42 L176.9,653.37 L178.9,653.32 L180.9,653.28 L182.9,653.22 L184.9,653.17 L186.9,653.12 L188.9,653.07 L190.9,653.01 L192.9,652.95 L194.9,652.90 L196.9,652.84 L198.9,652.78 L200.9,652.71 L202.9,652.65 L204.9,652.58 L206.9,652.52 L208.9,652.45 L210.9,652.38 L212.9,652.31 L214.9,652.23 L216.9,652.16 L218.9,652.08 L220.9,652.00 L222.9,651.92 L224.9,651.84 L226.9,651.75 L228.9,651.66 L230.9,651.58 L232.9,651.48 L234.9,651.39 L236.9,651.30 L238.9,651.20 L240.9,651.10 L242.9,650.99 L244.9,650.89 L246.9,650.78 L248.9,650.67 L250.9,650.56 L252.9,650.45 L254.9,650.33 L256.9,650.21 L258.9,650.09 L260.9,649.96 L262.9,649.84 L264.9,649.71 L266.9,649.57 L268.9,649.44 L270.9,649.30 L272.9,649.16 L274.9,649.02 L276.9,648.87 L278.9,648.72 L280.9,648.57 L282.9,648.41 L284.9,648.25 L286.9,648.09 L288.9,647.93 L290.9,647.76 L292.9,647.59 L294.9,647.41 L296.9,647.23 L298.9,647.05 L300.9,646.87 L302.9,646.68 L304.9,646.49 L306.9,646.30 L308.9,646.10 L310.9,645.90 L312.9,645.69 L314.9,645.49 L316.9,645.27 L318.9,645.06 L320.9,644.84 L322.9,644.62 L324.9,644.39 L326.9,644.16 L328.9,643.93 L330.9,643.69 L332.9,643.45 L334.9,643.21 L336.9,642.96 L338.9,642.71 L340.9,642.45 L342.9,642.19 L344.9,641.93 L346.9,641.66 L348.9,641.39 L350.9,641.11 L352.9,640.83 L354.9,640.55 L356.9,640.26 L358.9,639.97 L360.9,639.67 L362.9,639.37 L364.9,639.07 L366.9,638.76 L368.9,638.44 L370.9,638.13 L372.9,637.81 L374.9,637.48 L376.9,637.15 L378.9,636.81 L380.9,636.47 L382.9,636.13 L384.9,635.78 L386.9,635.43 L388.9,635.07 L390.9,634.71 L392.9,634.35 L394.9,633.98 L396.9,633.60 L398.9,633.22 L400.9,632.84 L402.9,632.45 L404.9,632.05 L406.9,631.65 L408.9,631.25 L410.9,630.84 L412.9,630.43 L414.9,630.01 L416.9,629.59 L418.9,629.16 L420.9,628.73 L422.9,628.29 L424.9,627.85 L426.9,627.41 L428.9,626.96 L430.9,626.50 L432.9,626.04 L434.9,625.57 L436.9,625.10 L438.9,624.62 L440.9,624.14 L442.9,623.66 L444.9,623.16 L446.9,622.67 L448.9,622.16 L450.9,621.66 L452.9,621.15 L454.9,620.63 L456.9,620.11 L458.9,619.58 L460.9,619.05 L462.9,618.51 L464.9,617.96 L466.9,617.42 L468.9,616.86 L470.9,616.30 L472.9,615.74 L474.9,615.17 L476.9,614.59 L478.9,614.01 L480.9,613.43 L482.9,612.84 L484.9,612.24 L486.9,611.64 L488.9,611.03 L490.9,610.42 L492.9,609.80 L494.9,609.17 L496.9,608.54 L498.9,607.91 L500.9,607.27 L502.9,606.62 L504.9,605.97 L506.9,605.31 L508.9,604.65 L510.9,603.98 L512.9,603.31 L514.9,602.63 L516.9,601.94 L518.9,601.25 L520.9,600.56 L522.9,599.86 L524.9,599.15 L526.9,598.43 L528.9,597.72 L530.9,596.99 L532.9,596.26 L534.9,595.52 L536.9,594.78 L538.9,594.04 L540.9,593.28 L542.9,592.52 L544.9,591.76 L546.9,590.99 L548.9,590.21 L550.9,589.43 L552.9,588.64 L554.9,587.85 L556.9,587.05 L558.9,586.24 L560.9,585.43 L562.9,584.61 L564.9,583.79 L566.9,582.96 L568.9,582.13 L570.9,581.29 L572.9,580.44 L574.9,579.59 L576.9,578.73 L578.9,577.87 L580.9,577.00 L582.9,576.12 L584.9,575.24 L586.9,574.35 L588.9,573.46 L590.9,572.56 L592.9,571.65 L594.9,570.74 L596.9,569.82 L598.9,568.90 L600.9,567.97 L602.9,567.04 L604.9,566.10 L606.9,565.15 L608.9,564.20 L610.9,563.24 L612.9,562.27 L614.9,561.30 L616.9,560.32 L618.9,559.34 L620.9,558.35 L622.9,557.36 L624.9,556.36 L626.9,555.35 L628.9,554.34 L630.9,553.32 L632.9,552.29 L634.9,551.26 L636.9,550.23 L638.9,549.18 L640.9,548.14 L642.9,547.08 L644.9,546.02 L646.9,544.95 L648.9,543.88 L650.9,542.80 L652.9,541.72 L654.9,540.63 L656.9,539.53 L658.9,538.43 L660.9,537.32 L662.9,536.21 L664.9,535.09 L666.9,533.96 L668.9,532.83 L670.9,531.69 L672.9,530.54 L674.9,529.39 L676.9,528.24 L678.9,527.08 L680.9,525.91 L682.9,524.73 L684.9,523.55 L686.9,522.37 L688.9,521.17 L690.9,519.98 L692.9,518.77 L694.9,517.56 L696.9,516.35 L698.9,515.13 L700.9,513.90 L702.9,512.66 L704.9,511.43 L706.9,510.18 L708.9,508.93 L710.9,507.67 L712.9,506.41 L714.9,505.14 L716.9,503.87 L718.9,502.59 L720.9,501.30 L722.9,500.01 L724.9,498.71 L726.9,497.40 L728.9,496.09 L730.9,494.78 L732.9,493.46 L734.9,492.13 L736.9,490.80 L738.9,489.46 L740.9,488.11 L742.9,486.76 L744.9,485.41 L746.9,484.05 L748.9,482.68 L750.9,481.31 L752.9,479.93 L754.9,478.54 L756.9,477.15 L758.9,475.76 L760.9,474.35 L762.9,472.95 L764.9,471.53 L766.9,470.12 L768.9,468.69 L770.9,467.26 L772.9,465.83 L774.9,464.39 L776.9,462.94 L778.9,461.49 L780.9,460.03 L782.9,458.56 L784.9,457.10 L786.9,455.62 L788.9,454.14 L790.9,452.66 L792.9,451.17 L794.9,449.67 L796.9,448.17 L798.9,446.66 L800.9,445.15 L802.9,443.63" stroke="#555555" stroke-width="5.8" stroke-dasharray="16.9 5.26"/>
<path d="M120.9,656.53 L122.9,656.44 L124.9,656.36 L126.9,656.28 L128.9,656.20 L130.9,656.12 L132.9,656.05 L134.9,655.98 L136.9,655.91 L138.9,655.84 L140.9,655.77 L142.9,655.71 L144.9,655.64 L146.9,655.58 L148.9,655.52 L150.9,655.46 L152.9,655.41 L154.9,655.35 L156.9,655.29 L158.9,655.24 L160.9,655.18 L162.9,655.13 L164.9,655.08 L166.9,655.03 L168.9,654.98 L170.9,654.93 L172.9,654.88 L174.9,654.83 L176.9,654.78 L178.9,654.73 L180.9,654.68 L182.9,654.63 L184.9,654.58 L186.9,654.53 L188.9,654.48 L190.9,654.43 L192.9,654.37 L194.9,654.32 L196.9,654.27 L198.9,654.22 L200.9,654.16 L202.9,654.11 L204.9,654.05 L206.9,654.00 L208.9,653.94 L210.9,653.88 L212.9,653.82 L214.9,653.76 L216.9,653.69 L218.9,653.63 L220.9,653.56 L222.9,653.50 L224.9,653.43 L226.9,653.36 L228.9,653.28 L230.9,653.21 L232.9,653.13 L234.9,653.05 L236.9,652.97 L238.9,652.89 L240.9,652.80 L242.9,652.72 L244.9,652.63 L246.9,652.53 L248.9,652.44 L250.9,652.34 L252.9,652.24 L254.9,652.14 L256.9,652.03 L258.9,651.93 L260.9,651.82 L262.9,651.70 L264.9,651.59 L266.9,651.47 L268.9,651.34 L270.9,651.22 L272.9,651.09 L274.9,650.96 L276.9,650.82 L278.9,650.68 L280.9,650.54 L282.9,650.39 L284.9,650.24 L286.9,650.09 L288.9,649.93 L290.9,649.77 L292.9,649.61 L294.9,649.44 L296.9,649.27 L298.9,649.09 L300.9,648.91 L302.9,648.73 L304.9,648.54 L306.9,648.35 L308.9,648.15 L310.9,647.95 L312.9,647.75 L314.9,647.54 L316.9,647.32 L318.9,647.11 L320.9,646.89 L322.9,646.66 L324.9,646.43 L326.9,646.19 L328.9,645.95 L330.9,645.71 L332.9,645.46 L334.9,645.20 L336.9,644.95 L338.9,644.68 L340.9,644.41 L342.9,644.14 L344.9,643.86 L346.9,643.58 L348.9,643.29 L350.9,643.00 L352.9,642.70 L354.9,642.39 L356.9,642.09 L358.9,641.77 L360.9,641.45 L362.9,641.13 L364.9,640.80 L366.9,640.47 L368.9,640.13 L370.9,639.78 L372.9,639.43 L374.9,639.07 L376.9,638.71 L378.9,638.34 L380.9,637.97 L382.9,637.59 L384.9,637.21 L386.9,636.82 L388.9,636.43 L390.9,636.03 L392.9,635.62 L394.9,635.21 L396.9,634.79 L398.9,634.37 L400.9,633.94 L402.9,633.50 L404.9,633.06 L406.9,632.62 L408.9,632.17 L410.9,631.71 L412.9,631.24 L414.9,630.77 L416.9,630.30 L418.9,629.82 L420.9,629.33 L422.9,628.84 L424.9,628.34 L426.9,627.83 L428.9,627.32 L430.9,626.80 L432.9,626.28 L434.9,625.75 L436.9,625.21 L438.9,624.67 L440.9,624.12 L442.9,623.57 L444.9,623.01 L446.9,622.44 L448.9,621.87 L450.9,621.29 L452.9,620.71 L454.9,620.12 L456.9,619.52 L458.9,618.92 L460.9,618.31 L462.9,617.70 L464.9,617.07 L466.9,616.45 L468.9,615.81 L470.9,615.17 L472.9,614.53 L474.9,613.88 L476.9,613.22 L478.9,612.55 L480.9,611.88 L482.9,611.20 L484.9,610.52 L486.9,609.83 L488.9,609.14 L490.9,608.43 L492.9,607.73 L494.9,607.01 L496.9,606.29 L498.9,605.57 L500.9,604.83 L502.9,604.09 L504.9,603.35 L506.9,602.60 L508.9,601.84 L510.9,601.08 L512.9,600.31 L514.9,599.53 L516.9,598.75 L518.9,597.96 L520.9,597.17 L522.9,596.37 L524.9,595.56 L526.9,594.75 L528.9,593.93 L530.9,593.11 L532.9,592.28 L534.9,591.44 L536.9,590.60 L538.9,589.75 L540.9,588.90 L542.9,588.04 L544.9,587.17 L546.9,586.30 L548.9,585.43 L550.9,584.54 L552.9,583.65 L554.9,582.76 L556.9,581.86 L558.9,580.95 L560.9,580.04 L562.9,579.12 L564.9,578.20 L566.9,577.27 L568.9,576.33 L570.9,575.39 L572.9,574.44 L574.9,573.49 L576.9,572.53 L578.9,571.57 L580.9,570.60 L582.9,569.63 L584.9,568.65 L586.9,567.66 L588.9,566.67 L590.9,565.68 L592.9,564.68 L594.9,563.67 L596.9,562.66 L598.9,561.64 L600.9,560.62 L602.9,559.59 L604.9,558.56 L606.9,557.52 L608.9,556.48 L610.9,555.43 L612.9,554.38 L614.9,553.32 L616.9,552.26 L618.9,551.19 L620.9,550.12 L622.9,549.04 L624.9,547.96 L626.9,546.88 L628.9,545.78 L630.9,544.69 L632.9,543.59 L634.9,542.48 L636.9,541.37 L638.9,540.26 L640.9,539.14 L642.9,538.02 L644.9,536.89 L646.9,535.76 L648.9,534.62 L650.9,533.48 L652.9,532.34 L654.9,531.19 L656.9,530.04 L658.9,528.88 L660.9,527.72 L662.9,526.56 L664.9,525.39 L666.9,524.22 L668.9,523.04 L670.9,521.86 L672.9,520.68 L674.9,519.49 L676.9,518.30 L678.9,517.11 L680.9,515.91 L682.9,514.71 L684.9,513.51 L686.9,512.30 L688.9,511.09 L690.9,509.88 L692.9,508.66 L694.9,507.44 L696.9,506.22 L698.9,504.99 L700.9,503.76 L702.9,502.53 L704.9,501.30 L706.9,500.06 L708.9,498.82 L710.9,497.58 L712.9,496.33 L714.9,495.09 L716.9,493.84 L718.9,492.59 L720.9,491.33 L722.9,490.08 L724.9,488.82 L726.9,487.56 L728.9,486.30 L730.9,485.03 L732.9,483.77 L734.9,482.50 L736.9,481.23 L738.9,479.96 L740.9,478.69 L742.9,477.41 L744.9,476.14 L746.9,474.86 L748.9,473.58 L750.9,472.30 L752.9,471.02 L754.9,469.74 L756.9,468.46 L758.9,467.17 L760.9,465.89 L762.9,464.61 L764.9,463.32 L766.9,462.03 L768.9,460.75 L770.9,459.46 L772.9,458.17 L774.9,456.89 L776.9,455.60 L778.9,454.31 L780.9,453.02 L782.9,451.73 L784.9,450.45 L786.9,449.16 L788.9,447.87 L790.9,446.59 L792.9,445.30 L794.9,444.01 L796.9,442.73 L798.9,441.44 L800.9,440.16 L802.9,438.88" stroke="#664422" stroke-width="5.8" stroke-dasharray="16.9 5.26"/>
<path d="M120.9,641.94 L122.9,641.82 L124.9,641.69 L126.9,641.55 L128.9,641.41 L130.9,641.27 L132.9,641.12 L134.9,640.96 L136.9,640.81 L138.9,640.64 L140.9,640.47 L142.9,640.30 L144.9,640.12 L146.9,639.94 L148.9,639.75 L150.9,639.55 L152.9,639.35 L154.9,639.15 L156.9,638.94 L158.9,638.72 L160.9,638.50 L162.9,638.27 L164.9,638.04 L166.9,637.80 L168.9,637.55 L170.9,637.30 L172.9,637.04 L174.9,636.78 L176.9,636.51 L178.9,636.24 L180.9,635.96 L182.9,635.67 L184.9,635.37 L186.9,635.07 L188.9,634.77 L190.9,634.45 L192.9,634.13 L194.9,633.81 L196.9,633.47 L198.9,633.13 L200.9,632.79 L202.9,632.43 L204.9,632.07 L206.9,631.70 L208.9,631.33 L210.9,630.95 L212.9,630.56 L214.9,630.16 L216.9,629.75 L218.9,629.34 L220.9,628.92 L222.9,628.50 L224.9,628.06 L226.9,627.62 L228.9,627.17 L230.9,626.71 L232.9,626.25 L234.9,625.78 L236.9,625.29 L238.9,624.81 L240.9,624.31 L242.9,623.80 L244.9,623.29 L246.9,622.77 L248.9,622.24 L250.9,621.70 L252.9,621.15 L254.9,620.59 L256.9,620.03 L258.9,619.46 L260.9,618.88 L262.9,618.29 L264.9,617.69 L266.9,617.08 L268.9,616.46 L270.9,615.83 L272.9,615.20 L274.9,614.55 L276.9,613.90 L278.9,613.24 L280.9,612.57 L282.9,611.88 L284.9,611.19 L286.9,610.49 L288.9,609.78 L290.9,609.06 L292.9,608.34 L294.9,607.60 L296.9,606.85 L298.9,606.09 L300.9,605.32 L302.9,604.54 L304.9,603.75 L306.9,602.96 L308.9,602.15 L310.9,601.33 L312.9,600.50 L314.9,599.66 L316.9,598.81 L318.9,597.95 L320.9,597.08 L322.9,596.20 L324.9,595.31 L326.9,594.40 L328.9,593.49 L330.9,592.57 L332.9,591.63 L334.9,590.69 L336.9,589.73 L338.9,588.77 L340.9,587.79 L342.9,586.80 L344.9,585.80 L346.9,584.79 L348.9,583.76 L350.9,582.73 L352.9,581.68 L354.9,580.63 L356.9,579.56 L358.9,578.48 L360.9,577.39 L362.9,576.29 L364.9,575.17 L366.9,574.05 L368.9,572.91 L370.9,571.76 L372.9,570.60 L374.9,569.42 L376.9,568.24 L378.9,567.04 L380.9,565.83 L382.9,564.61 L384.9,563.38 L386.9,562.13 L388.9,560.87 L390.9,559.60 L392.9,558.32 L394.9,557.03 L396.9,555.72 L398.9,554.40 L400.9,553.07 L402.9,551.72 L404.9,550.37 L406.9,549.00 L408.9,547.61 L410.9,546.22 L412.9,544.81 L414.9,543.39 L416.9,541.96 L418.9,540.51 L420.9,539.05 L422.9,537.58 L424.9,536.09 L426.9,534.60 L428.9,533.08 L430.9,531.56 L432.9,530.02 L434.9,528.47 L436.9,526.91 L438.9,525.33 L440.9,523.74 L442.9,522.13 L444.9,520.52 L446.9,518.88 L448.9,517.24 L450.9,515.58 L452.9,513.91 L454.9,512.23 L456.9,510.53 L458.9,508.81 L460.9,507.09 L462.9,505.35 L464.9,503.59 L466.9,501.83 L468.9,500.05 L470.9,498.25 L472.9,496.44 L474.9,494.62 L476.9,492.78 L478.9,490.93 L480.9,489.07 L482.9,487.19 L484.9,485.30 L486.9,483.39 L488.9,481.47 L490.9,479.53 L492.9,477.58 L494.9,475.62 L496.9,473.64 L498.9,471.65 L500.9,469.64 L502.9,467.62 L504.9,465.59 L506.9,463.54 L508.9,461.48 L510.9,459.40 L512.9,457.31 L514.9,455.20 L516.9,453.08 L518.9,450.94 L520.9,448.79 L522.9,446.63 L524.9,444.45 L526.9,442.25 L528.9,440.05 L530.9,437.82 L532.9,435.59 L534.9,433.33 L536.9,431.07 L538.9,428.78 L540.9,426.49 L542.9,424.18 L544.9,421.85 L546.9,419.51 L548.9,417.16 L550.9,414.79 L552.9,412.40 L554.9,410.00 L556.9,407.59 L558.9,405.16 L560.9,402.72 L562.9,400.26 L564.9,397.79 L566.9,395.30 L568.9,392.80 L570.9,390.28 L572.9,387.75 L574.9,385.20 L576.9,382.64 L578.9,380.06 L580.9,377.47 L582.9,374.86 L584.9,372.24 L586.9,369.61 L588.9,366.95 L590.9,364.29 L592.9,361.61 L594.9,358.91 L596.9,356.20 L598.9,353.48 L600.9,350.74 L602.9,347.98 L604.9,345.21 L606.9,342.43 L608.9,339.63 L610.9,336.81 L612.9,333.98 L614.9,331.14 L616.9,328.28 L618.9,325.41 L620.9,322.52 L622.9,319.62 L624.9,316.70 L626.9,313.77 L628.9,310.82 L630.9,307.86 L632.9,304.88 L634.9,301.89 L636.9,298.88 L638.9,295.86 L640.9,292.83 L642.9,289.78 L644.9,286.71 L646.9,283.64 L648.9,280.54 L650.9,277.43 L652.9,274.31 L654.9,271.17 L656.9,268.02 L658.9,264.86 L660.9,261.67 L662.9,258.48 L664.9,255.27 L666.9,252.05 L668.9,248.81 L670.9,245.56 L672.9,242.29 L674.9,239.01 L676.9,235.71 L678.9,232.40 L680.9,229.08 L682.9,225.74 L684.9,222.39 L686.9,219.02 L688.9,215.64 L690.9,212.25 L692.9,208.84 L694.9,205.42 L696.9,201.98 L698.9,198.53 L700.9,195.07 L702.9,191.59 L704.9,188.10 L706.9,184.60 L708.9,181.08 L710.9,177.55 L712.9,174.00 L714.9,170.44 L716.9,166.87 L718.9,163.28 L720.9,159.68 L722.9,156.07 L724.9,152.44 L726.9,148.81 L728.9,145.15 L730.9,141.49 L732.9,137.81 L734.9,134.12 L736.9,130.41 L738.9,126.69 L740.9,122.96 L742.9,119.22 L744.9,115.46 L746.9,111.69 L748.9,107.91 L750.9,104.12 L752.9,100.31 L754.9,96.49 L756.9,92.66 L758.9,88.82 L760.9,84.96 L762.9,81.09 L764.9,77.21 L766.9,73.32 L768.9,69.41 L770.9,65.50 L772.9,61.57 L774.9,57.63 L776.9,53.67 L778.9,49.71 L780.9,45.74 L782.9,41.75 L784.9,37.75 L786.9,33.74 L788.9,29.72 L790.9,25.69 L792.9,21.64 L794.9,17.59 L796.9,13.52 L798.9,9.45 L800.9,5.36 L802.9,1.26" stroke="#aa0000" stroke-width="5.8"/>
<path d="M120.9,647.17 L122.9,647.10 L124.9,647.03 L126.9,646.96 L128.9,646.89 L130.9,646.81 L132.9,646.73 L134.9,646.66 L136.9,646.58 L138.9,646.49 L140.9,646.41 L142.9,646.33 L144.9,646.24 L146.9,646.15 L148.9,646.06 L150.9,645.97 L152.9,645.87 L154.9,645.78 L156.9,645.68 L158.9,645.58 L160.9,645.48 L162.9,645.38 L164.9,645.27 L166.9,645.17 L168.9,645.06 L170.9,644.95 L172.9,644.84 L174.9,644.73 L176.9,644.61 L178.9,644.50 L180.9,644.38 L182.9,644.26 L184.9,644.14 L186.9,644.02 L188.9,643.89 L190.9,643.76 L192.9,643.64 L194.9,643.51 L196.9,643.37 L198.9,643.24 L200.9,643.11 L202.9,642.97 L204.9,642.83 L206.9,642.69 L208.9,642.55 L210.9,642.40 L212.9,642.26 L214.9,642.11 L216.9,641.96 L218.9,641.81 L220.9,641.66 L222.9,641.51 L224.9,641.35 L226.9,641.19 L228.9,641.03 L230.9,640.87 L232.9,640.71 L234.9,640.54 L236.9,640.38 L238.9,640.21 L240.9,640.04 L242.9,639.87 L244.9,639.70 L246.9,639.52 L248.9,639.35 L250.9,639.17 L252.9,638.99 L254.9,638.81 L256.9,638.62 L258.9,638.44 L260.9,638.25 L262.9,638.06 L264.9,637.87 L266.9,637.68 L268.9,637.49 L270.9,637.29 L272.9,637.09 L274.9,636.90 L276.9,636.69 L278.9,636.49 L280.9,636.29 L282.9,636.08 L284.9,635.88 L286.9,635.67 L288.9,635.46 L290.9,635.24 L292.9,635.03 L294.9,634.81 L296.9,634.59 L298.9,634.37 L300.9,634.15 L302.9,633.93 L304.9,633.71 L306.9,633.48 L308.9,633.25 L310.9,633.02 L312.9,632.79 L314.9,632.56 L316.9,632.32 L318.9,632.09 L320.9,631.85 L322.9,631.61 L324.9,631.36 L326.9,631.12 L328.9,630.88 L330.9,630.63 L332.9,630.38 L334.9,630.13 L336.9,629.88 L338.9,629.62 L340.9,629.37 L342.9,629.11 L344.9,628.85 L346.9,628.59 L348.9,628.33 L350.9,628.06 L352.9,627.80 L354.9,627.53 L356.9,627.26 L358.9,626.99 L360.9,626.72 L362.9,626.44 L364.9,626.17 L366.9,625.89 L368.9,625.61 L370.9,625.33 L372.9,625.04 L374.9,624.76 L376.9,624.47 L378.9,624.18 L380.9,623.89 L382.9,623.60 L384.9,623.31 L386.9,623.01 L388.9,622.72 L390.9,622.42 L392.9,622.12 L394.9,621.82 L396.9,621.51 L398.9,621.21 L400.9,620.90 L402.9,620.59 L404.9,620.28 L406.9,619.97 L408.9,619.65 L410.9,619.34 L412.9,619.02 L414.9,618.70 L416.9,618.38 L418.9,618.06 L420.9,617.73 L422.9,617.40 L424.9,617.08 L426.9,616.75 L428.9,616.42 L430.9,616.08 L432.9,615.75 L434.9,615.41 L436.9,615.07 L438.9,614.73 L440.9,614.39 L442.9,614.05 L444.9,613.70 L446.9,613.36 L448.9,613.01 L450.9,612.66 L452.9,612.30 L454.9,611.95 L456.9,611.60 L458.9,611.24 L460.9,610.88 L462.9,610.52 L464.9,610.16 L466.9,609.79 L468.9,609.43 L470.9,609.06 L472.9,608.69 L474.9,608.32 L476.9,607.95 L478.9,607.57 L480.9,607.20 L482.9,606.82 L484.9,606.44 L486.9,606.06 L488.9,605.67 L490.9,605.29 L492.9,604.90 L494.9,604.51 L496.9,604.12 L498.9,603.73 L500.9,603.34 L502.9,602.94 L504.9,602.55 L506.9,602.15 L508.9,601.75 L510.9,601.35 L512.9,600.94 L514.9,600.54 L516.9,600.13 L518.9,599.72 L520.9,599.31 L522.9,598.90 L524.9,598.48 L526.9,598.07 L528.9,597.65 L530.9,597.23 L532.9,596.81 L534.9,596.39 L536.9,595.96 L538.9,595.54 L540.9,595.11 L542.9,594.68 L544.9,594.25 L546.9,593.82 L548.9,593.38 L550.9,592.95 L552.9,592.51 L554.9,592.07 L556.9,591.63 L558.9,591.18 L560.9,590.74 L562.9,590.29 L564.9,589.84 L566.9,589.39 L568.9,588.94 L570.9,588.49 L572.9,588.03 L574.9,587.57 L576.9,587.12 L578.9,586.66 L580.9,586.19 L582.9,585.73 L584.9,585.26 L586.9,584.80 L588.9,584.33 L590.9,583.86 L592.9,583.38 L594.9,582.91 L596.9,582.43 L598.9,581.96 L600.9,581.48 L602.9,581.00 L604.9,580.51 L606.9,580.03 L608.9,579.54 L610.9,579.05 L612.9,578.56 L614.9,578.07 L616.9,577.58 L618.9,577.08 L620.9,576.59 L622.9,576.09 L624.9,575.59 L626.9,575.09 L628.9,574.58 L630.9,574.08 L632.9,573.57 L634.9,573.06 L636.9,572.55 L638.9,572.04 L640.9,571.53 L642.9,571.01 L644.9,570.49 L646.9,569.97 L648.9,569.45 L650.9,568.93 L652.9,568.41 L654.9,567.88 L656.9,567.35 L658.9,566.82 L660.9,566.29 L662.9,565.76 L664.9,565.23 L666.9,564.69 L668.9,564.15 L670.9,563.61 L672.9,563.07 L674.9,562.53 L676.9,561.98 L678.9,561.44 L680.9,560.89 L682.9,560.34 L684.9,559.79 L686.9,559.23 L688.9,558.68 L690.9,558.12 L692.9,557.56 L694.9,557.00 L696.9,556.44 L698.9,555.88 L700.9,555.31 L702.9,554.74 L704.9,554.17 L706.9,553.60 L708.9,553.03 L710.9,552.46 L712.9,551.88 L714.9,551.30 L716.9,550.72 L718.9,550.14 L720.9,549.56 L722.9,548.98 L724.9,548.39 L726.9,547.80 L728.9,547.21 L730.9,546.62 L732.9,546.03 L734.9,545.43 L736.9,544.84 L738.9,544.24 L740.9,543.64 L742.9,543.04 L744.9,542.43 L746.9,541.83 L748.9,541.22 L750.9,540.61 L752.9,540.00 L754.9,539.39 L756.9,538.78 L758.9,538.16 L760.9,537.54 L762.9,536.93 L764.9,536.30 L766.9,535.68 L768.9,535.06 L770.9,534.43 L772.9,533.81 L774.9,533.18 L776.9,532.54 L778.9,531.91 L780.9,531.28 L782.9,530.64 L784.9,530.00 L786.9,529.36 L788.9,528.72 L790.9,528.08 L792.9,527.44 L794.9,526.79 L796.9,526.14 L798.9,525.49 L800.9,524.84 L802.9,524.19" stroke="#000000" stroke-width="5.8"/>
</g>
<g stroke="#000" stroke-opacity="0.72" stroke-width="1" fill="none">
<rect x="132.15" y="0.5" width="663.35" height="663.4"/>
</g>
<g stroke="#000" stroke-opacity="0.8" stroke-width="1" fill="none">
<line x1="132.45000000000002" y1="656.3" x2="142.45000000000002" y2="656.3"/>
<line x1="132.45000000000002" y1="627.6" x2="138.45000000000002" y2="627.6"/>
<line x1="132.45000000000002" y1="598.9" x2="138.45000000000002" y2="598.9"/>
<line x1="132.45000000000002" y1="570.2" x2="138.45000000000002" y2="570.2"/>
<line x1="132.45000000000002" y1="541.5" x2="142.45000000000002" y2="541.5"/>
<line x1="132.45000000000002" y1="512.8" x2="138.45000000000002" y2="512.8"/>
<line x1="132.45000000000002" y1="484.1" x2="138.45000000000002" y2="484.1"/>
<line x1="132.45000000000002" y1="455.4" x2="138.45000000000002" y2="455.4"/>
<line x1="132.45000000000002" y1="426.7" x2="142.45000000000002" y2="426.7"/>
<line x1="132.45000000000002" y1="398.0" x2="138.45000000000002" y2="398.0"/>
<line x1="132.45000000000002" y1="369.3" x2="138.45000000000002" y2="369.3"/>
<line x1="132.45000000000002" y1="340.6" x2="138.45000000000002" y2="340.6"/>
<line x1="132.45000000000002" y1="311.9" x2="142.45000000000002" y2="311.9"/>
<line x1="132.45000000000002" y1="283.2" x2="138.45000000000002" y2="283.2"/>
<line x1="132.45000000000002" y1="254.5" x2="138.45000000000002" y2="254.5"/>
<line x1="132.45000000000002" y1="225.8" x2="138.45000000000002" y2="225.8"/>
<line x1="132.45000000000002" y1="197.1" x2="142.45000000000002" y2="197.1"/>
<line x1="132.45000000000002" y1="168.4" x2="138.45000000000002" y2="168.4"/>
<line x1="132.45000000000002" y1="139.7" x2="138.45000000000002" y2="139.7"/>
<line x1="132.45000000000002" y1="111.0" x2="138.45000000000002" y2="111.0"/>
<line x1="132.45000000000002" y1="82.3" x2="142.45000000000002" y2="82.3"/>
<line x1="132.45000000000002" y1="53.6" x2="138.45000000000002" y2="53.6"/>
<line x1="132.45000000000002" y1="24.9" x2="138.45000000000002" y2="24.9"/>
<line x1="134.5" y1="663.9" x2="134.5" y2="654.4"/>
<line x1="244.4" y1="663.9" x2="244.4" y2="654.4"/>
<line x1="354.7" y1="663.9" x2="354.7" y2="654.4"/>
<line x1="464.9" y1="663.9" x2="464.9" y2="654.4"/>
<line x1="575.2" y1="663.9" x2="575.2" y2="654.4"/>
<line x1="685.4" y1="663.9" x2="685.4" y2="654.4"/>
<line x1="795.6" y1="663.9" x2="795.6" y2="654.4"/>
</g>
<g fill="none" stroke-width="5.7">
<line x1="159.2" y1="42.2" x2="220.0" y2="42.2" stroke="#000000"/>
<line x1="159.2" y1="82.4" x2="220.0" y2="82.4" stroke="#aa0000"/>
<line x1="159.2" y1="122.6" x2="220.0" y2="122.6" stroke="#aa0000" stroke-dasharray="8 5.4 17 5.4"/>
<line x1="159.2" y1="162.8" x2="220.0" y2="162.8" stroke="#00aaaa" stroke-dasharray="17 5.3"/>
<line x1="159.2" y1="203.0" x2="220.0" y2="203.0" stroke="#aa00aa" stroke-dasharray="17 5.3"/>
<line x1="159.2" y1="243.2" x2="220.0" y2="243.2" stroke="#664422" stroke-dasharray="17 5.3"/>
<line x1="159.2" y1="283.4" x2="220.0" y2="283.4" stroke="#aaaa00" stroke-dasharray="17 5.3"/>
<line x1="159.2" y1="323.6" x2="220.0" y2="323.6" stroke="#555555" stroke-dasharray="17 5.3"/>
</g>
<rect x="162.4" y="389.9" width="21.6" height="19.4" fill="#8080ff"/>
<rect x="162.4" y="418.4" width="21.6" height="19.4" fill="#80ff80"/>
<g font-family="Liberation Serif, serif" fill="#000">
<text transform="translate(123.6,671.6) scale(0.975,1)" font-size="57.5" text-anchor="end">0</text>
<text transform="translate(123.6,556.8) scale(0.975,1)" font-size="57.5" text-anchor="end">2</text>
<text transform="translate(123.6,442.0) scale(0.975,1)" font-size="57.5" text-anchor="end">4</text>
<text transform="translate(123.6,327.2) scale(0.975,1)" font-size="57.5" text-anchor="end">6</text>
<text transform="translate(123.6,212.4) scale(0.975,1)" font-size="57.5" text-anchor="end">8</text>
<text transform="translate(124.6,97.6) scale(0.975,1)" font-size="57.5" text-anchor="end">10</text>
<text transform="translate(133.2,714.3) scale(0.975,1)" font-size="57.5" text-anchor="middle">0.3</text>
<text transform="translate(243.4,718.3) scale(0.975,1)" font-size="57.5" text-anchor="middle">0.5</text>
<text transform="translate(353.7,714.3) scale(0.975,1)" font-size="57.5" text-anchor="middle">0.7</text>
<text transform="translate(463.9,714.3) scale(0.975,1)" font-size="57.5" text-anchor="middle">0.9</text>
<text transform="translate(575.2,714.3) scale(0.975,1)" font-size="57.5" text-anchor="middle">1.1</text>
<text transform="translate(685.4,714.3) scale(0.975,1)" font-size="57.5" text-anchor="middle">1.3</text>
<text transform="translate(796.1,718.3) scale(0.975,1)" font-size="57.5" text-anchor="middle">1.5</text>
<text x="430.5" y="790" font-size="57" font-style="italic">C</text>
<text transform="translate(469.5,798) scale(0.9,1)" font-size="39.5" font-style="italic">V</text>
<text x="247.3" y="51.8" font-size="43" font-style="italic">R</text>
<text transform="translate(274.5,60.4) scale(1.3,1)" font-size="31" font-style="italic">&#963;</text>
<text x="244" y="92.0" font-size="44" font-style="italic">S<tspan dx="-0.9" dy="7.6" font-size="31"><tspan dx="1.2" font-style="normal">tot</tspan></tspan></text>
<text x="238" y="132.2" font-size="44" font-style="italic">S<tspan dx="-0.9" dy="7.6" font-size="31"><tspan dx="1.2" font-style="normal">SM</tspan></tspan></text>
<text x="245" y="172.4" font-size="44" font-style="italic">S<tspan dx="-0.9" dy="7.6" font-size="31"><tspan font-style="normal">3&#8201;</tspan>l</tspan></text>
<text x="245" y="212.6" font-size="44" font-style="italic">S<tspan dx="-0.9" dy="7.6" font-size="31"><tspan font-style="normal">4&#8201;</tspan>l</tspan></text>
<text x="245" y="252.8" font-size="44" font-style="italic">S<tspan dx="-0.9" dy="7.6" font-size="31"></tspan></text>
<text transform="translate(267.6,260.4) scale(1.27,1)" font-size="31" font-style="italic">&#947;&#947;</text>
<text x="241.5" y="293.0" font-size="44" font-style="italic">S<tspan dx="-0.9" dy="7.6" font-size="31"><tspan font-style="normal">2&#8201;</tspan>l<tspan font-style="normal">&#8201;(</tspan></tspan></text>
<text transform="translate(309.6,300.6) scale(1.3,1)" font-size="31" font-style="italic">&#964;</text>
<text x="324.4" y="300.6" font-size="31">)</text>
<text x="235.5" y="333.2" font-size="44" font-style="italic">S<tspan dx="-0.9" dy="7.6" font-size="31"><tspan font-style="normal">2&#8201;</tspan>l<tspan font-style="normal">&#8201;(</tspan>W<tspan font-style="normal"><tspan dx="1.3">)</tspan></tspan></tspan></text>
<text x="146.6" y="380.5" font-size="35" textLength="63" lengthAdjust="spacingAndGlyphs">95%</text>
<text x="221" y="380.5" font-size="36.2" textLength="122" lengthAdjust="spacingAndGlyphs">Allowed</text>
<text x="217.6" y="412.3" font-size="35.6" textLength="74.2" lengthAdjust="spacing">CMS</text>
<text x="199" y="440.9" font-size="35" textLength="112.8" lengthAdjust="spacing">ATLAS</text>
</g>
</svg>
</body></html>
